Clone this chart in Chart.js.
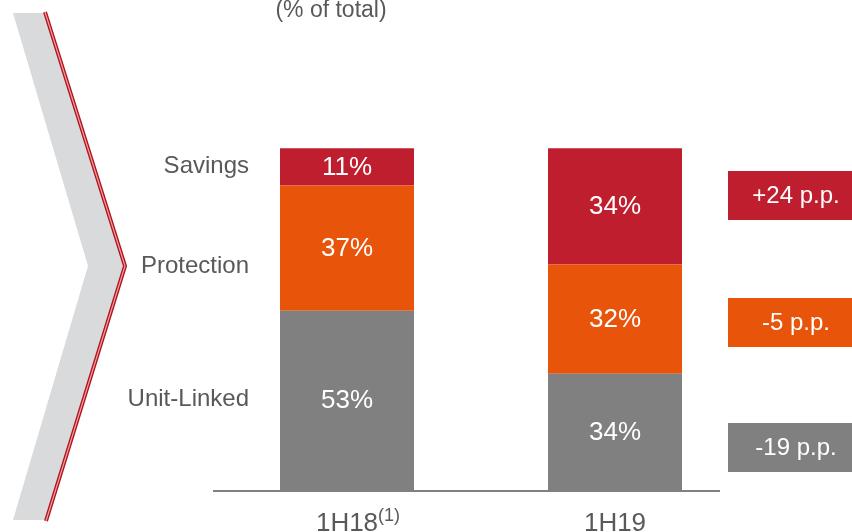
<!DOCTYPE html>
<html>
<head>
<meta charset="utf-8">
<script src="https://cdn.jsdelivr.net/npm/chart.js@4/dist/chart.umd.min.js"></script>
<style>
  body { margin: 0; background: #fff; }
  #wrap { width: 852px; height: 532px; position: relative; }
</style>
</head>
<body>
<div id="wrap"><canvas id="chart"></canvas></div>
<script>
// data
const periods = ['1H18', '1H19'];
const periodNotes = ['(1)', ''];
const unitLinked = [53, 34];
const protection = [37, 32];
const savings = [11, 34];
const deltas = ['-19 p.p.', '-5 p.p.', '+24 p.p.'];
const rowNames = ['Unit-Linked', 'Protection', 'Savings'];

const colors = ['#808080', '#E8540A', '#BE1E2D'];
const textGrey = '#595959';
const font = '"Liberation Sans", Arial, sans-serif';

// each bar is drawn as a share of its own total (labels keep the rounded values)
const totals = periods.map((p, j) => unitLinked[j] + protection[j] + savings[j]);
const share = arr => arr.map((v, j) => v / totals[j] * 100);

const decor = {
  id: 'decor',
  beforeDraw(chart) {
    const c = chart.ctx;
    c.save();
    c.fillStyle = '#fff';
    c.fillRect(0, 0, chart.width, chart.height);
    // chevron on the left
    c.fillStyle = '#D9DADC';
    c.beginPath();
    c.moveTo(13, 13); c.lineTo(45, 13); c.lineTo(125, 266);
    c.lineTo(47, 520); c.lineTo(13, 520); c.lineTo(88, 266);
    c.closePath(); c.fill();
    c.beginPath();
    c.moveTo(45, 12); c.lineTo(125, 266); c.lineTo(46, 521);
    c.strokeStyle = '#B5121B'; c.lineWidth = 4; c.stroke();
    c.strokeStyle = '#E9A3A6'; c.lineWidth = 1.2; c.stroke();
    c.restore();
  },
  afterDatasetsDraw(chart) {
    const c = chart.ctx;
    const area = chart.chartArea;
    const xs = chart.scales.x;
    c.save();
    // axis line
    c.strokeStyle = '#808080'; c.lineWidth = 2;
    c.beginPath(); c.moveTo(area.left, area.bottom + 1); c.lineTo(720, area.bottom + 1); c.stroke();

    // values inside the bars
    c.fillStyle = '#fff';
    c.font = '26px ' + font;
    c.textAlign = 'center'; c.textBaseline = 'middle';
    chart.data.datasets.forEach((ds, i) => {
      chart.getDatasetMeta(i).data.forEach((bar, j) => {
        c.fillText(ds.raw[j] + '%', bar.x, (bar.y + bar.base) / 2 + 1);
      });
    });

    // period labels with footnote
    c.fillStyle = textGrey;
    periods.forEach((p, j) => {
      const x = xs.getPixelForValue(j);
      c.font = '26px ' + font;
      c.textAlign = 'center'; c.textBaseline = 'alphabetic';
      c.fillText(p, x, 531);
      if (periodNotes[j]) {
        const w = c.measureText(p).width;
        c.font = '18px ' + font;
        c.textAlign = 'left';
        c.fillText(periodNotes[j], x + w / 2, 521);
      }
    });

    // row names on the left
    const rowY = [399, 266, 166];
    c.font = '24px ' + font;
    c.textAlign = 'right'; c.textBaseline = 'middle';
    rowNames.forEach((n, i) => c.fillText(n, 249, rowY[i]));

    // title
    c.font = '23px ' + font;
    c.textAlign = 'center'; c.textBaseline = 'alphabetic';
    c.fillText('(% of total)', 331, 17);

    // change boxes
    const boxY = [423, 298, 171];
    deltas.forEach((d, i) => {
      c.fillStyle = colors[i];
      c.fillRect(728, boxY[i], 124, 49);
      c.fillStyle = '#fff';
      c.font = '24px ' + font;
      c.textAlign = 'center'; c.textBaseline = 'middle';
      c.fillText(d, 796, boxY[i] + 25);
    });
    c.restore();
  }
};

new Chart(document.getElementById('chart'), {
  type: 'bar',
  data: {
    labels: periods,
    datasets: [
      { label: 'Unit-Linked', data: share(unitLinked), raw: unitLinked, backgroundColor: colors[0] },
      { label: 'Protection', data: share(protection), raw: protection, backgroundColor: colors[1] },
      { label: 'Savings', data: share(savings), raw: savings, backgroundColor: colors[2] }
    ]
  },
  options: {
    responsive: true,
    maintainAspectRatio: false,
    animation: false,
    layout: { padding: { left: 213, right: 103, top: 114, bottom: 42 } },
    datasets: { bar: { categoryPercentage: 1, barPercentage: 0.5 } },
    plugins: { legend: { display: false }, tooltip: { enabled: false } },
    scales: {
      x: { stacked: true, display: false },
      y: { stacked: true, display: false, min: 0, max: 110 }
    }
  },
  plugins: [decor]
});
</script>
</body>
</html>
